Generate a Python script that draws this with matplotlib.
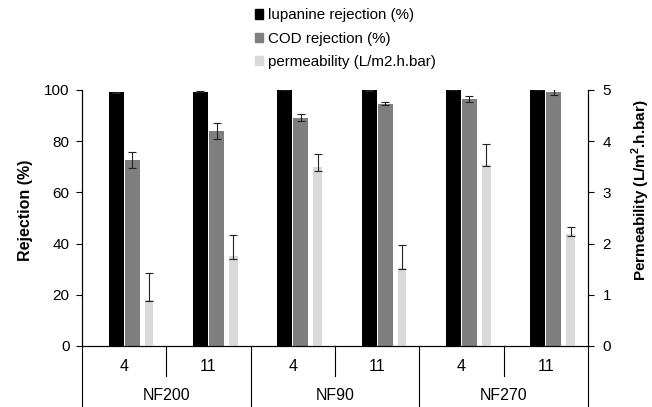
import matplotlib
matplotlib.use("Agg")
import matplotlib.pyplot as plt
from matplotlib.patches import Patch
import numpy as np

plt.rcParams['font.family'] = ['Liberation Sans', 'DejaVu Sans']

membranes = ['NF200', 'NF90', 'NF270']
ph_labels = ['4', '11', '4', '11', '4', '11']

lupanine = [99.2, 99.3, 100.0, 99.8, 100.0, 100.0]
lupanine_err = [0.2, 0.2, 0.0, 0.2, 0.0, 0.0]
cod = [72.5, 84.0, 89.2, 94.7, 96.5, 99.2]
cod_err = [3.1, 3.0, 1.3, 0.7, 1.1, 1.0]
perm = [0.90, 1.76, 3.49, 1.53, 3.53, 2.18]
perm_err_low = [0.02, 0.06, 0.07, 0.02, 0.02, 0.04]
perm_err_high = [0.53, 0.40, 0.26, 0.45, 0.41, 0.15]

c_black = '#000000'
c_grey = '#7f7f7f'
c_light = '#d9d9d9'

fig = plt.figure(figsize=(6.52, 4.07), dpi=100)
ax = fig.add_axes([0.1258, 0.1499, 0.776, 0.629])
ax2 = ax.twinx()

x = np.arange(len(lupanine))
ekw = dict(ecolor='#222222', elinewidth=0.8, capsize=2.8, capthick=0.8)

ax.bar(x - 0.095, lupanine, 0.18, color=c_black, yerr=lupanine_err, error_kw=ekw, zorder=2)
ax.bar(x + 0.095, cod, 0.18, color=c_grey, yerr=cod_err, error_kw=ekw, zorder=2)
ax2.bar(x + 0.295, perm, 0.10, color=c_light,
        yerr=[perm_err_low, perm_err_high], error_kw=ekw, zorder=2)

ax.set_xlim(-0.5, 5.5)
ax.set_ylim(0, 100)
ax.set_yticks(range(0, 101, 20))
ax2.set_ylim(0, 5)
ax2.set_yticks(range(0, 6))

for a in (ax, ax2):
    a.spines['top'].set_visible(False)
    a.tick_params(axis='y', direction='out', length=4, width=0.8, labelsize=11)
    for s in a.spines.values():
        s.set_linewidth(0.8)
ax.tick_params(axis='y', pad=5)
ax2.tick_params(axis='y', pad=6.5)
ax.set_xticks([])
ax2.set_xticks([])

ax.set_ylabel('Rejection (%)', fontsize=11.5, fontweight='bold')
ax.yaxis.set_label_coords(-0.097, 0.531)
ax2.set_ylabel('Permeability (L/m$^\\mathregular{2}$.h.bar)', fontsize=11,
               fontweight='bold')
ax2.yaxis.set_label_coords(1.082, 0.609)

# two level category axis
tr = ax.get_xaxis_transform()
for xs in [0.5, 2.5, 4.5]:
    ax.plot([xs, xs], [0, -0.117], color='black', lw=0.8, transform=tr, clip_on=False)
for xl in [-0.5, 1.5, 3.5, 5.5]:
    ax.plot([xl, xl], [0, -0.25], color='black', lw=0.8, transform=tr, clip_on=False)
for i, lab in enumerate(ph_labels):
    ax.text(i, -0.08, lab, transform=tr, ha='center', va='center', fontsize=11.5)
for j, m in enumerate(membranes):
    ax.text(2 * j + 0.5, -0.195, m, transform=tr, ha='center', va='center', fontsize=11.5)

handles = [Patch(color=c_black, label='lupanine rejection (%)'),
           Patch(color=c_grey, label='COD rejection (%)'),
           Patch(color=c_light, label='permeability (L/m2.h.bar)')]
fig.legend(handles=handles, loc='upper left', bbox_to_anchor=(0.378, 1.0),
           frameon=False, fontsize=10.9, handlelength=0.55, handleheight=0.55,
           handletextpad=0.3, labelspacing=0.62, borderaxespad=0.15)

fig.savefig('out.png', dpi=100)
